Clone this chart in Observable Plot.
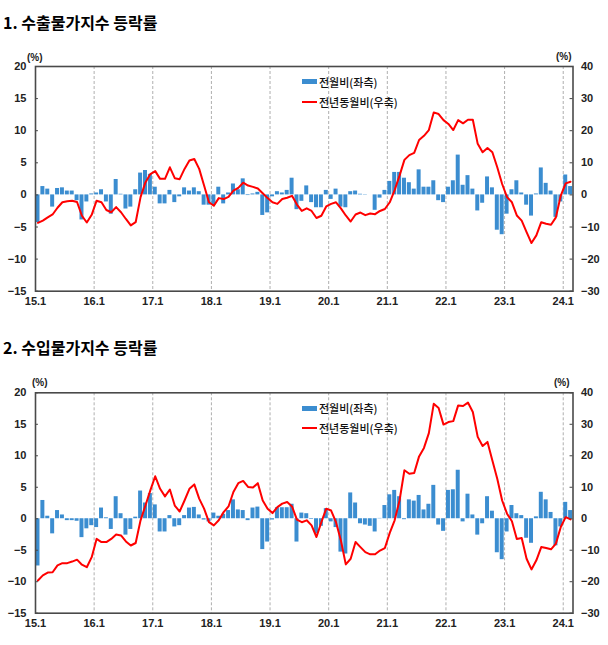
<!DOCTYPE html>
<html><head><meta charset="utf-8">
<script src="https://cdn.jsdelivr.net/npm/d3@7"></script>
<script src="https://cdn.jsdelivr.net/npm/@observablehq/plot@0.6"></script>
<style>
html,body{margin:0;padding:0;background:#fff;}
body{width:608px;height:645px;position:relative;overflow:hidden;font-family:"Liberation Sans",Arial,sans-serif;}
.title{position:absolute;left:3px;font-family:"Noto Sans CJK KR";font-weight:bold;font-size:16px;line-height:24px;color:#000;white-space:nowrap;}
.panel{position:absolute;left:0;}
.pct{position:absolute;font-family:"Liberation Sans",Arial,sans-serif;font-weight:bold;font-size:10px;line-height:12px;color:#222;}
.leg{position:absolute;font-family:"Noto Sans CJK KR";font-weight:500;font-size:11px;line-height:14px;color:#111;white-space:nowrap;}
.sw{position:absolute;}
</style></head><body>
<div class="title" style="top:10px">1. 수출물가지수 등락률</div>
<div class="title" style="top:335px">2. 수입물가지수 등락률</div>
<div id="p1" class="panel" style="top:40px"></div>
<div id="p2" class="panel" style="top:366px"></div>
<script>
// ---- data (monthly, 2015.1 – 2024.2) ----
const xTickLabels = ["15.1","16.1","17.1","18.1","19.1","20.1","21.1","22.1","23.1","24.1"];
const leftTicks = [-15,-10,-5,0,5,10,15,20];
const rightTicks = [-30,-20,-10,0,10,20,30,40];
const seriesNames = ["전월비(좌측)","전년동월비(우축)"];

const exportMoM = [-4.3,1.3,0.9,-1.9,1.0,1.1,0.6,0.6,-0.9,-3.9,-1.1,0.15,
 0.3,0.8,-1.1,-3.0,2.4,0.1,-2.2,-1.9,0.8,3.4,3.8,3.2,
 1.2,-1.4,-1.4,0.7,-1.2,-0.3,1.1,0.6,1.1,0.5,-1.6,-1.6,
 -1.5,1.2,-1.4,0.3,1.7,0.8,2.5,-0.1,0.15,0.4,-3.2,-2.8,
 -0.3,0.5,0.3,0.7,2.6,-2.3,-1.0,1.4,-1.2,-2.0,-2.0,0.7,
 -0.7,0.9,-1.9,-2.0,0.5,0.6,0.1,0.05,0.0,-2.4,-0.5,0.7,
 2.1,3.5,3.5,2.6,1.9,0.9,3.9,1.2,1.2,2.2,-0.9,-1.2,
 1.2,2.2,6.2,1.5,3.0,0.9,-2.5,-1.3,2.8,1.1,-5.5,-6.2,
 -3.0,0.8,2.2,0.3,-1.6,-3.3,0.15,4.2,1.8,0.6,-3.5,-1.1,
 3.1,1.3];
const exportYoY = [-8.7,-8.0,-7.0,-6.1,-4.0,-2.3,-2.0,-1.8,-2.2,-6.5,-8.6,-6.2,
 -1.8,-2.3,-4.7,-5.4,-3.8,-5.4,-7.5,-9.5,-8.5,-0.7,3.9,6.5,
 7.4,5.0,5.0,8.6,5.2,4.9,8.1,10.7,11.2,8.1,2.9,-2.3,
 -3.4,-1.0,-1.3,-0.6,1.3,2.2,3.8,2.9,2.5,2.0,0.5,-1.0,
 -2.3,-2.8,-1.3,-0.9,-0.3,-3.0,-5.0,-4.2,-5.0,-7.2,-6.5,-3.6,
 -2.8,-2.3,-4.2,-6.4,-8.3,-6.1,-5.5,-6.3,-5.8,-6.0,-5.0,-4.4,
 -2.3,1.5,6.0,10.9,12.4,13.1,17.1,18.4,20.2,25.7,25.2,23.3,
 22.1,20.2,23.3,22.3,23.4,23.4,15.9,13.3,14.6,13.3,8.6,3.4,
 -0.7,-2.3,-6.4,-8.0,-11.6,-15.0,-12.6,-8.5,-9.0,-9.3,-7.0,-0.2,
 3.6,4.1];
const importMoM = [-7.5,2.9,0.4,-2.4,1.3,0.6,-0.3,-0.3,-0.4,-3.0,-1.6,-1.1,
 -1.4,1.7,0.15,-1.7,3.5,0.8,-2.6,-1.7,0.25,4.4,2.5,4.0,
 2.2,-2.1,-2.1,0.5,-1.3,-1.1,0.5,1.7,1.8,0.6,-0.2,-0.5,
 0.9,0.4,0.7,1.3,3.0,1.4,1.3,-0.3,1.7,1.85,-4.9,-3.7,
 -0.2,1.75,1.75,1.75,2.3,-3.7,0.9,0.8,-0.1,-2.4,-1.2,1.6,
 -0.5,-1.4,-5.3,-5.6,4.1,2.5,-0.8,-1.0,-1.2,-2.1,0.05,2.1,
 3.8,4.5,3.5,-0.15,3.0,2.8,3.7,1.4,2.3,5.3,-1.0,-2.0,
 4.5,4.6,7.7,-0.5,3.9,0.6,-2.6,-0.8,3.5,1.2,-5.4,-6.5,
 -2.1,2.1,0.8,0.5,-3.1,-3.9,0.3,4.2,3.0,1.0,-4.3,-1.3,
 2.6,1.3];
const importYoY = [-19.6,-18.0,-17.1,-17.0,-14.8,-14.1,-14.1,-13.6,-13.0,-14.6,-15.4,-12.2,
 -6.4,-7.4,-7.4,-6.4,-5.0,-5.3,-7.2,-8.5,-7.7,-0.5,4.2,9.0,
 13.5,9.5,7.1,9.3,4.2,2.3,5.8,9.5,10.9,6.4,3.2,-1.1,
 -2.1,-0.5,2.1,3.9,8.5,11.3,12.0,10.1,9.9,11.3,5.8,3.2,
 1.8,3.7,4.8,5.3,3.9,-0.3,-1.1,-0.5,-2.1,-5.8,-1.1,3.2,
 2.6,-1.1,-6.9,-14.5,-12.7,-7.4,-9.0,-10.6,-11.3,-11.3,-10.1,-9.3,
 -4.5,-0.5,5.8,15.4,14.3,14.5,19.8,22.5,27.2,36.5,35.2,29.9,
 30.7,31.0,36.0,35.8,36.9,33.9,26.0,23.1,24.4,18.5,12.7,5.8,
 1.6,-0.8,-6.4,-6.1,-12.7,-16.1,-13.2,-9.0,-9.3,-9.7,-7.9,-2.6,
 0.5,-0.2];

const BAR_COLOR = "#3b8dd0";
const LINE_COLOR = "#ff0000";
const nMonths = exportMoM.length;
const RIGHT_RATIO = (rightTicks[rightTicks.length-1]-rightTicks[0])/(leftTicks[leftTicks.length-1]-leftTicks[0]);
const yearStarts = xTickLabels.map((_, k) => k*12);
const fmt = d => d < 0 ? "−" + Math.abs(d) : String(d);

function makePanel(mom, yoy, opts) {
  const bars = mom.map((v, i) => ({i, v}));
  const line = yoy.map((v, i) => ({t: i + 0.5, v: v / RIGHT_RATIO}));
  const tickLen = 0.6;
  return Plot.plot({
    width: 608, height: opts.height,
    marginLeft: 35, marginRight: 35.5, marginTop: opts.marginTop, marginBottom: opts.marginBottom,
    style: {fontFamily: "Liberation Sans, Arial, sans-serif", overflow: "visible", background: "#fff"},
    x: {type: "linear", domain: [0, nMonths], axis: null, label: null},
    y: {domain: [leftTicks[0], leftTicks[leftTicks.length-1]], axis: null, label: null},
    marks: [
      Plot.ruleX(yearStarts.slice(1), {stroke: "#9a9a9a", strokeWidth: 0.8, strokeDasharray: "3,2"}),
      Plot.rect(bars, {x1: "i", x2: d => d.i + 1, y1: () => 0, y2: "v", fill: BAR_COLOR, insetLeft: 0.5, insetRight: 0.4}),
      Plot.line(line, {x: "t", y: "v", stroke: LINE_COLOR, strokeWidth: 2, curve: "linear"}),
      Plot.ruleY(leftTicks, {x1: 0, x2: tickLen, stroke: "#444", strokeWidth: 1}),
      Plot.ruleY(rightTicks.map(v => v / RIGHT_RATIO), {x1: nMonths - tickLen, x2: nMonths, stroke: "#444", strokeWidth: 1}),
      Plot.frame({stroke: "#4a4a4a", strokeWidth: 1.6}),
      Plot.axisY(leftTicks, {anchor: "left", label: null, tickSize: 0, tickPadding: 9, tickFormat: fmt,
        fontSize: 11, fontWeight: "bold", fill: "#222"}),
      Plot.axisY(rightTicks.map(v => v / RIGHT_RATIO), {anchor: "right", label: null, tickSize: 0, tickPadding: 8,
        tickFormat: d => fmt(Math.round(d * RIGHT_RATIO)), fontSize: 11, fontWeight: "bold", fill: "#222"}),
      Plot.axisX(yearStarts, {anchor: "bottom", label: null, tickSize: 0, tickPadding: 6,
        tickFormat: d => xTickLabels[d / 12], fontSize: 11, fontWeight: "bold", fill: "#222"})
    ]
  });
}

document.getElementById("p1").append(makePanel(exportMoM, exportYoY, {height: 280, marginTop: 26, marginBottom: 29.3}));
document.getElementById("p2").append(makePanel(importMoM, importYoY, {height: 274, marginTop: 26.3, marginBottom: 27.3}));

// (%) unit labels and legends
function addDiv(cls, html, style) {
  const d = document.createElement("div");
  d.className = cls; d.innerHTML = html;
  Object.assign(d.style, style);
  document.body.append(d);
  return d;
}
function addLegend(top) {
  addDiv("sw", "", {left: "302px", top: (top - 2.5) + "px", width: "15px", height: "5px", background: BAR_COLOR});
  addDiv("leg", seriesNames[0], {left: "319px", top: (top - 7) + "px"});
  addDiv("sw", "", {left: "302px", top: (top + 20 - 1) + "px", width: "15px", height: "2px", background: LINE_COLOR});
  addDiv("leg", seriesNames[1], {left: "319px", top: (top + 20 - 7) + "px"});
}
addDiv("pct", "(%)", {left: "27px", top: "52px"});
addDiv("pct", "(%)", {left: "556px", top: "51px"});
addDiv("pct", "(%)", {left: "32px", top: "377px"});
addDiv("pct", "(%)", {left: "554px", top: "377px"});
addLegend(81.5);
addLegend(408);
</script>
</body></html>
